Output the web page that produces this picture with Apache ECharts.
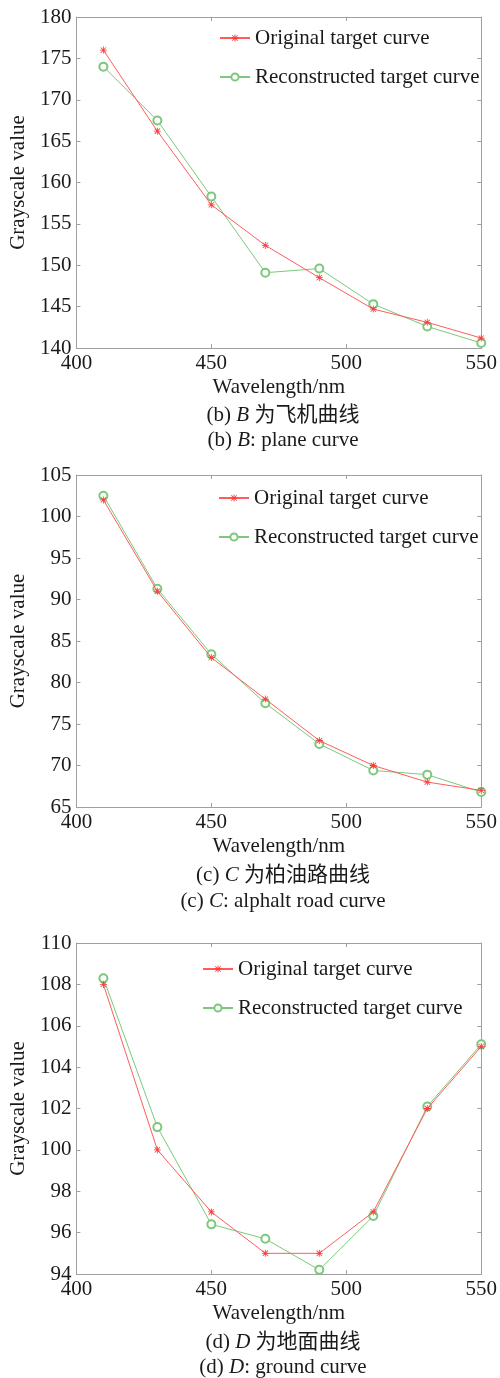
<!DOCTYPE html>
<html>
<head>
<meta charset="utf-8">
<script src="https://cdn.jsdelivr.net/npm/echarts@6/dist/echarts.min.js"></script>
<style>
  html, body { margin: 0; padding: 0; background: #fff; }
  #chart { width: 500px; height: 1378px; }
</style>
</head>
<body>
<div id="chart"></div>
<script>
var wavelength = [410, 430, 450, 470, 490, 510, 530, 550];

// (b) plane
var planeOriginal = [176, 166.2, 157.3, 152.4, 148.5, 144.7, 143.1, 141.2];
var planeRecon    = [174, 167.5, 158.3, 149.1, 149.6, 145.3, 142.6, 140.6];
// (c) asphalt road
var roadOriginal  = [102, 91, 83, 78, 73, 70, 68, 67];
var roadRecon     = [102.5, 91.3, 83.4, 77.5, 72.6, 69.4, 68.9, 66.8];
// (d) ground
var groundOriginal = [108, 100, 97, 95, 95, 97, 102, 105];
var groundRecon    = [108.3, 101.1, 96.4, 95.7, 94.2, 96.8, 102.1, 105.1];

var seriesNames = ['Original target curve', 'Reconstructed target curve'];
var yRanges = [[140, 180, 5], [65, 105, 5], [94, 110, 2]];
var xRange = [400, 550, 50];

var FONT = "'Liberation Serif', 'Times New Roman', 'Noto Sans CJK SC', serif";
var AXIS_COLOR = '#a0a0a0';
var TEXT_COLOR = '#1a1a1a';
var RED = '#ff5c5c';
var GREEN = '#7cc87c';
var ASTERISK = 'path://M4.4,0h1.2v10h-1.2z M0,4.4h10v1.2h-10z M0.8,1.65L1.65,0.8L9.2,8.35L8.35,9.2z M8.35,0.8L9.2,1.65L1.65,9.2L0.8,8.35z';

function pairs(ys) {
    return wavelength.map(function (x, i) { return [x, ys[i]]; });
}

var grids = [
    { left: 74, top: 17, width: 415, height: 331 },
    { left: 74, top: 475, width: 414, height: 332 },
    { left: 73, top: 943, width: 415, height: 331 }
];
var legendPos = [[219, 26], [218, 486], [202, 957]];
var captions = [
    { y1: 415, y2: 440, a: '(b) {i|B} 为飞机曲线', b: '(b) {i|B}: plane curve' },
    { y1: 875, y2: 901, a: '(c) {i|C} 为柏油路曲线', b: '(c) {i|C}: alphalt road curve' },
    { y1: 1342, y2: 1367, a: '(d) {i|D} 为地面曲线', b: '(d) {i|D}: ground curve' }
];
var panelData = [
    [planeOriginal, planeRecon],
    [roadOriginal, roadRecon],
    [groundOriginal, groundRecon]
];

var xAxis = [], yAxis = [], series = [], legend = [], graphic = [];

grids.forEach(function (g, k) {
    var yr = yRanges[k];
    // bottom + left axes with labels
    xAxis.push({
        type: 'value', gridIndex: k, min: xRange[0], max: xRange[1], interval: xRange[2],
        name: 'Wavelength/nm', nameLocation: 'middle', nameGap: 29,
        nameTextStyle: { fontFamily: FONT, fontSize: 21, color: TEXT_COLOR },
        axisLine: { lineStyle: { color: AXIS_COLOR } },
        axisTick: { inside: true, length: 4, lineStyle: { color: AXIS_COLOR } },
        axisLabel: { margin: 5, fontFamily: FONT, fontSize: 21, color: TEXT_COLOR },
        splitLine: { show: false }
    });
    yAxis.push({
        type: 'value', gridIndex: k, min: yr[0], max: yr[1], interval: yr[2],
        name: 'Grayscale value', nameLocation: 'middle', nameGap: 41,
        nameTextStyle: { fontFamily: FONT, fontSize: 21, color: TEXT_COLOR },
        axisLine: { show: true, lineStyle: { color: AXIS_COLOR } },
        axisTick: { show: true, inside: true, length: 4, lineStyle: { color: AXIS_COLOR } },
        axisLabel: { margin: 5, fontFamily: FONT, fontSize: 21, color: TEXT_COLOR },
        splitLine: { show: false }
    });
    // top + right box edges
    xAxis.push({
        type: 'value', gridIndex: k, position: 'top', min: xRange[0], max: xRange[1], interval: xRange[2],
        axisLine: { lineStyle: { color: AXIS_COLOR } },
        axisTick: { inside: true, length: 4, lineStyle: { color: AXIS_COLOR } },
        axisLabel: { show: false }, splitLine: { show: false }
    });
    yAxis.push({
        type: 'value', gridIndex: k, position: 'right', min: yr[0], max: yr[1], interval: yr[2],
        axisLine: { show: true, lineStyle: { color: AXIS_COLOR } },
        axisTick: { show: true, inside: true, length: 4, lineStyle: { color: AXIS_COLOR } },
        axisLabel: { show: false }, splitLine: { show: false }
    });

    series.push({
        name: seriesNames[0], type: 'line', xAxisIndex: 2 * k, yAxisIndex: 2 * k,
        data: pairs(panelData[k][0]),
        symbol: ASTERISK, symbolSize: 7,
        itemStyle: { color: '#ff3a3a' },
        lineStyle: { color: RED, width: 1 },
        z: 3
    });
    series.push({
        name: seriesNames[1], type: 'line', xAxisIndex: 2 * k, yAxisIndex: 2 * k,
        data: pairs(panelData[k][1]),
        symbol: 'emptyCircle', symbolSize: 8,
        itemStyle: { color: GREEN, borderColor: GREEN, borderWidth: 1 },
        lineStyle: { color: GREEN, width: 1 },
        z: 2
    });

    legend.push({
        left: legendPos[k][0], top: legendPos[k][1], orient: 'vertical', padding: 0,
        itemWidth: 30, itemHeight: 9, itemGap: 15, selectedMode: false,
        textStyle: { fontFamily: FONT, fontSize: 21, color: TEXT_COLOR, lineHeight: 24 },
        data: seriesNames
    });

    var c = captions[k];
    [[c.a, c.y1], [c.b, c.y2]].forEach(function (t) {
        graphic.push({
            type: 'text', x: 283, y: t[1],
            style: {
                text: t[0], fontFamily: FONT, fontSize: 21, fill: TEXT_COLOR,
                align: 'center', verticalAlign: 'middle',
                textAlign: 'center', textVerticalAlign: 'middle',
                rich: { i: { fontStyle: 'italic', fontFamily: FONT, fontSize: 21, color: TEXT_COLOR } }
            }
        });
    });
});

var myChart = echarts.init(document.getElementById('chart'));
myChart.setOption({
    animation: false,
    backgroundColor: '#fff',
    grid: grids,
    xAxis: xAxis,
    yAxis: yAxis,
    legend: legend,
    series: series,
    graphic: graphic
});
</script>
</body>
</html>
